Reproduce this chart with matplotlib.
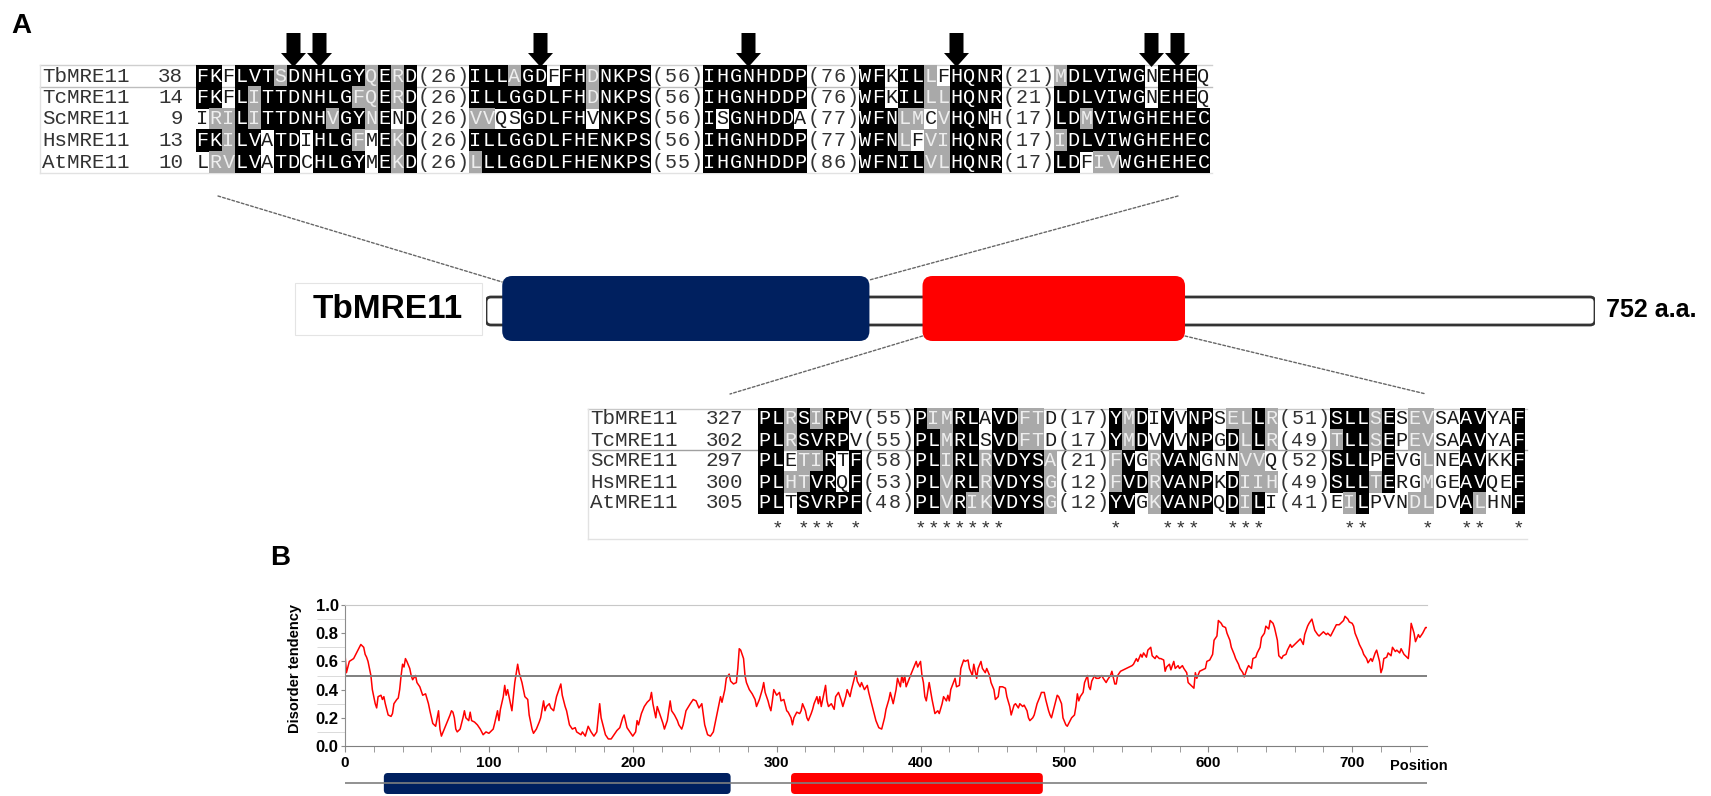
import matplotlib
matplotlib.use('Agg')
import matplotlib.pyplot as plt
from matplotlib.patches import FancyBboxPatch, Rectangle, Polygon, ConnectionPatch

W, H = 1711, 796
plt.rcParams['font.family'] = ['Liberation Sans', 'DejaVu Sans']

names = ['TbMRE11', 'TcMRE11', 'ScMRE11', 'HsMRE11', 'AtMRE11']

# upper alignment (phosphoesterase motifs)
top_start = [38, 14, 9, 13, 10]
top_seq = [
    ['FKFLVTSDNHLGYQERD', 'ILLAGDFFHDNKPS', 'IHGNHDDP', 'WFKILLFHQNR', 'MDLVIWGNEHEQ'],
    ['FKFLITTDNHLGFQERD', 'ILLGGDLFHDNKPS', 'IHGNHDDP', 'WFKILLLHQNR', 'LDLVIWGNEHEQ'],
    ['IRILITTDNHVGYNEND', 'VVQSGDLFHVNKPS', 'ISGNHDDA', 'WFNLMCVHQNH', 'LDMVIWGHEHEC'],
    ['FKILVATDIHLGFMEKD', 'ILLGGDLFHENKPS', 'IHGNHDDP', 'WFNLFVIHQNR', 'IDLVIWGHEHEC'],
    ['LRVLVATDCHLGYMEKD', 'LLLGGDLFHENKPS', 'IHGNHDDP', 'WFNILVLHQNR', 'LDFIVWGHEHEC'],
]
# B = identical (black), G = similar (grey), . = none
top_shade = [
    ['BB.BBBGBBBBBBGBGB', 'BBBGBB.BBGBBBB', 'BBBBBBBB', 'BB.BBG.BBBB', 'GBBBBBB.BBB.'],
    ['BB.BGBBBBBBBGGBGB', 'BBBBBBBBBGBBBB', 'BBBBBBBB', 'BB.BBGGBBBB', 'BBBBBBB.BBB.'],
    ['.GGBGBBBBBGBBGB.B', 'GG..BBBBB.BBBB', 'B.BBBBB.', 'BBBGG.GBBB.', 'BBGBBBBBBBBB'],
    ['BBGBB.BB.BBBG.BGB', 'BBBBBBBBBBBBBB', 'BBBBBBBB', 'BBBG.GGBBBB', 'GBBBBBBBBBBB'],
    ['.GGBB.BB.BBBB.BGB', 'GBBBBBBBBBBBBB', 'BBBBBBBB', 'BBBBBGGBBBB', 'BB.GGBBBBBBB'],
]
top_gaps = [[26, 56, 76, 21], [26, 56, 76, 21], [26, 56, 77, 17], [26, 56, 77, 17], [26, 55, 86, 17]]
top_arrows = [(0, 7), (0, 9), (1, 5), (2, 3), (3, 7), (4, 7), (4, 9)]  # (segment, column)

# lower alignment (capping domain)
bot_start = [327, 302, 297, 300, 305]
bot_seq = [
    ['PLRSIRPV', 'PIMRLAVDFTD', 'YMDIVVNPSELLR', 'SLLSESEVSAAVYAF'],
    ['PLRSVRPV', 'PLMRLSVDFTD', 'YMDVVVNPGDLLR', 'TLLSEPEVSAAVYAF'],
    ['PLETIRTF', 'PLIRLRVDYSA', 'FVGRVANGNNVVQ', 'SLLPEVGLNEAVKKF'],
    ['PLHTVRQF', 'PLVRLRVDYSG', 'FVDRVANPKDIIH', 'SLLTERGMGEAVQEF'],
    ['PLTSVRPF', 'PLVRIKVDYSG', 'YVGKVANPQDILI', 'EILPVNDLDVALHNF'],
]
bot_shade = [
    ['BBGBGBB.', 'BGGBB.BBGG.', 'BGB.B.BB.GGBG', 'BBBGB.GG..BB..B'],
    ['BBGBBBB.', 'BBGBB.BBGG.', 'BGB.B.BB.BGBG', 'GBBGB.GG..BB..B'],
    ['BB.GGB.B', 'BBGBBGBBBBG', 'GB.GBBB...GG.', 'BBB.B..G..BB..B'],
    ['BBGGBB.B', 'BBGBBGBBBBG', 'GBBGBBBB.BGGG', 'BBBGB..G..BB..B'],
    ['BB.BBBBB', 'BBGBGGBBBBG', 'BB.GBBBB.BGB.', '.GB...GG..BG..B'],
]
bot_gaps = [[55, 17, 51], [55, 17, 49], [58, 21, 52], [53, 12, 49], [48, 12, 41]]
bot_stars = [[1, 3, 4, 5, 7], [0, 1, 2, 3, 4, 5, 6], [0, 4, 5, 6, 9, 10, 11], [1, 2, 7, 10, 11, 14]]

protein_len = 752
schematic_nuc = (11, 260)   # domain boxes as drawn on the schematic
schematic_cap = (296, 474)
domain_nuc = (27, 268)      # domain boxes under the disorder plot
domain_cap = (310, 485)

# disorder score (position, score)
disorder_trace = [
    (0, .65), (1, .52), (3, .60), (6, .62), (8, .66), (9, .68), (11, .72), (13, .70), (14, .65), (15, .63),
    (16, .60), (18, .50), (19, .40), (21, .30), (22, .27), (23, .35), (25, .36), (26, .33), (27, .35), (28, .30),
    (30, .22), (32, .21), (33, .23), (34, .30), (36, .33), (37, .34), (38, .40), (39, .50), (40, .58), (41, .56),
    (42, .62), (43, .60), (45, .55), (46, .50), (47, .47), (49, .50), (50, .45), (52, .42), (54, .36), (56, .37),
    (58, .30), (59, .25), (61, .16), (63, .14), (65, .25), (66, .12), (67, .07), (69, .12), (71, .17), (73, .22),
    (74, .25), (75, .24), (76, .20), (77, .12), (78, .10), (80, .12), (82, .20), (83, .25), (84, .20), (86, .18),
    (87, .24), (88, .18), (90, .17), (92, .15), (94, .12), (96, .08), (98, .10), (100, .09), (103, .12), (104, .16),
    (106, .25), (107, .18), (108, .26), (110, .35), (111, .43), (112, .36), (113, .40), (115, .30), (116, .25), (117, .35),
    (118, .45), (120, .58), (121, .52), (123, .45), (125, .35), (127, .33), (128, .22), (130, .12), (131, .09), (133, .12),
    (135, .17), (136, .20), (138, .32), (139, .25), (140, .28), (142, .30), (143, .27), (145, .25), (147, .35), (150, .44),
    (151, .36), (153, .28), (154, .25), (156, .15), (158, .12), (160, .13), (161, .10), (164, .08), (165, .10), (167, .07),
    (169, .14), (171, .10), (173, .07), (175, .10), (177, .30), (178, .20), (180, .12), (181, .08), (183, .05), (185, .05),
    (187, .08), (189, .11), (191, .13), (193, .20), (194, .22), (196, .13), (198, .10), (200, .07), (202, .10), (203, .18),
    (204, .15), (206, .23), (208, .28), (210, .31), (212, .33), (213, .38), (214, .30), (216, .20), (217, .28), (219, .22),
    (221, .16), (222, .12), (224, .18), (226, .32), (227, .25), (229, .22), (231, .18), (232, .15), (234, .12), (235, .15),
    (237, .25), (240, .30), (242, .33), (244, .32), (246, .27), (248, .30), (250, .15), (252, .08), (254, .07), (256, .10),
    (257, .15), (259, .25), (260, .30), (261, .35), (262, .31), (264, .40), (265, .48), (267, .51), (268, .46), (270, .44),
    (272, .45), (273, .55), (274, .69), (275, .68), (277, .62), (278, .50), (279, .45), (281, .40), (283, .37), (285, .33),
    (286, .28), (288, .33), (290, .40), (291, .45), (292, .38), (294, .32), (295, .28), (296, .25), (297, .32), (298, .40),
    (300, .36), (302, .38), (303, .32), (305, .33), (307, .25), (308, .24), (310, .20), (311, .15), (312, .20), (314, .24),
    (316, .23), (317, .25), (318, .30), (320, .25), (321, .20), (322, .18), (324, .23), (325, .26), (326, .30), (328, .35),
    (329, .30), (330, .35), (331, .28), (333, .38), (334, .43), (335, .32), (336, .28), (338, .30), (340, .26), (341, .35),
    (343, .38), (345, .32), (346, .28), (348, .35), (349, .40), (351, .35), (352, .40), (354, .48), (355, .53), (356, .46),
    (358, .42), (359, .45), (361, .40), (363, .43), (364, .38), (366, .30), (368, .22), (369, .18), (371, .13), (373, .12),
    (375, .20), (376, .26), (378, .33), (379, .38), (381, .30), (383, .40), (384, .48), (386, .42), (387, .50), (388, .45),
    (389, .50), (390, .42), (393, .50), (395, .55), (397, .60), (398, .56), (400, .60), (401, .50), (402, .45), (403, .35),
    (404, .32), (406, .45), (408, .33), (410, .23), (412, .25), (413, .23), (415, .30), (416, .35), (418, .32), (419, .36),
    (420, .32), (421, .40), (424, .48), (425, .42), (427, .43), (428, .55), (430, .61), (431, .60), (433, .61), (434, .55),
    (436, .50), (437, .58), (439, .48), (440, .55), (442, .60), (443, .55), (445, .52), (446, .55), (448, .50), (449, .45),
    (451, .40), (452, .33), (454, .35), (455, .42), (457, .42), (459, .41), (460, .35), (462, .28), (463, .22), (465, .29),
    (466, .30), (468, .27), (469, .30), (471, .28), (472, .29), (474, .25), (475, .20), (476, .18), (478, .20), (479, .22),
    (481, .30), (483, .35), (484, .38), (486, .38), (487, .33), (489, .25), (490, .22), (491, .20), (493, .28), (494, .32),
    (495, .36), (496, .35), (498, .30), (499, .20), (501, .15), (502, .14), (504, .18), (505, .20), (507, .22), (508, .28),
    (509, .37), (510, .32), (511, .35), (513, .38), (514, .45), (516, .50), (517, .42), (518, .40), (519, .46), (521, .50),
    (522, .48), (524, .48), (526, .50), (527, .48), (529, .45), (530, .47), (532, .50), (533, .53), (535, .44), (536, .44),
    (537, .50), (539, .53), (541, .54), (543, .55), (545, .56), (547, .57), (548, .58), (550, .62), (551, .60), (553, .65),
    (554, .63), (555, .66), (557, .63), (558, .68), (560, .70), (561, .64), (563, .62), (564, .64), (566, .62), (567, .62),
    (569, .61), (570, .53), (571, .56), (573, .58), (574, .54), (576, .60), (577, .55), (579, .57), (580, .55), (582, .57),
    (583, .55), (585, .52), (586, .45), (588, .43), (589, .42), (590, .41), (591, .52), (592, .48), (594, .53), (596, .54),
    (598, .55), (599, .60), (601, .61), (603, .65), (604, .75), (606, .78), (607, .89), (609, .87), (610, .85), (612, .84),
    (613, .80), (615, .75), (616, .70), (618, .65), (619, .62), (621, .58), (622, .55), (624, .52), (625, .49), (627, .55),
    (628, .57), (630, .55), (631, .62), (633, .63), (634, .66), (636, .70), (637, .77), (639, .80), (640, .85), (642, .83),
    (643, .89), (645, .87), (646, .84), (648, .75), (649, .64), (651, .62), (652, .64), (654, .65), (655, .68), (657, .72),
    (658, .70), (660, .72), (661, .73), (663, .75), (664, .76), (666, .72), (667, .79), (669, .85), (670, .87), (672, .90),
    (673, .86), (674, .82), (676, .79), (677, .78), (679, .80), (680, .81), (682, .79), (683, .80), (685, .78), (686, .80),
    (688, .84), (689, .86), (691, .86), (692, .87), (694, .89), (695, .92), (697, .90), (698, .88), (700, .87), (701, .85),
    (702, .80), (704, .75), (705, .72), (707, .68), (708, .65), (710, .62), (711, .59), (713, .62), (714, .60), (716, .66),
    (717, .68), (719, .60), (720, .52), (721, .55), (722, .62), (724, .63), (725, .66), (727, .64), (728, .70), (730, .67),
    (731, .68), (733, .66), (734, .69), (736, .65), (737, .64), (739, .62), (740, .72), (741, .87), (743, .80), (744, .74),
    (746, .79), (747, .77), (749, .80), (750, .82), (751, .84), (752, .84),
]
disorder_pos = [p for p, v in disorder_trace]
disorder_val = [v for p, v in disorder_trace]

MONO = 'Liberation Mono'
GRAY = '#a9a9a9'
NAVY = '#00205f'
RED = '#ff0000'
CW = 13.0   # alignment cell width (px)

fig = plt.figure(figsize=(W / 100, H / 100), dpi=100)
ax0 = fig.add_axes([0, 0, 1, 1])
ax0.set_xlim(0, W)
ax0.set_ylim(H, 0)
ax0.axis('off')


def seg_offsets(segs):
    offs, c = [], 0
    for seg in segs:
        offs.append(c)
        c += len(seg) + 4
    return offs


def draw_alignment(x_name, x_num, x_seq, y_first, dy, starts, seqs, shades, gaps):
    for r in range(len(names)):
        y = y_first + r * dy
        ax0.text(x_name, y, names[r], family=MONO, fontsize=15, color='#333333', ha='left', va='center')
        ax0.text(x_num, y, str(starts[r]), family=MONO, fontsize=15, color='#333333', ha='right', va='center')
        col = 0
        for s, seg in enumerate(seqs[r]):
            for ch, code in zip(seg, shades[r][s]):
                if code == 'B':
                    fc, tc = 'black', 'white'
                elif code == 'G':
                    fc, tc = GRAY, '#eeeeee'
                else:
                    fc, tc = None, '#1a1a1a'
                if fc:
                    ax0.add_patch(Rectangle((x_seq + col * CW - 0.3, y - dy / 2 - 0.3), CW + 0.6, dy + 0.6,
                                            fc=fc, ec='none', lw=0, zorder=2))
                ax0.text(x_seq + (col + 0.5) * CW, y, ch, family=MONO, fontsize=14.5, color=tc,
                         ha='center', va='center', zorder=3)
                col += 1
            if s < len(gaps[r]):
                for ch in '(%d)' % gaps[r][s]:
                    ax0.text(x_seq + (col + 0.5) * CW, y, ch, family=MONO, fontsize=14.5, color='#333333',
                             ha='center', va='center', zorder=3)
                    col += 1


# ---- panel A: upper alignment
tx0, ty0, tdy = 196, 76, 21.5
for yy, c in [(65, '#cfcfcf'), (87, '#bdbdbd'), (173, '#e2e2e2')]:
    ax0.plot([40, 1212], [yy, yy], color=c, lw=1, zorder=1)
ax0.plot([40, 40], [65, 173], color='#e2e2e2', lw=1, zorder=1)
draw_alignment(42, 183, tx0, ty0, tdy, top_start, top_seq, top_shade, top_gaps)

offs = seg_offsets(top_seq[0])
for s, c in top_arrows:
    xc = tx0 + (offs[s] + c + 0.5) * CW
    ax0.add_patch(Polygon([(xc - 7, 33), (xc + 7, 33), (xc + 7, 53), (xc + 12.5, 53), (xc, 67),
                           (xc - 12.5, 53), (xc - 7, 53)], closed=True, fc='black', ec='none', zorder=4))

# ---- panel A: lower alignment
bx0, by0, bdy = 758, 419, 21
for yy, c in [(409, '#c8c8c8'), (450, '#a0a0a0'), (539, '#e2e2e2')]:
    ax0.plot([588, 1527], [yy, yy], color=c, lw=1, zorder=1)
ax0.plot([588, 588], [409, 539], color='#e2e2e2', lw=1, zorder=1)
draw_alignment(590, 743, bx0, by0, bdy, bot_start, bot_seq, bot_shade, bot_gaps)
offs = seg_offsets(bot_seq[0])
for s, cols in enumerate(bot_stars):
    for c in cols:
        ax0.text(bx0 + (offs[s] + c + 0.5) * CW, 529, '*', family=MONO, fontsize=14, color='#333333',
                 ha='center', va='center')

# ---- panel A: protein schematic
axs = fig.add_axes([486 / W, 1 - 345 / H, 1109 / W, 75 / H])
axs.set_xlim(0, protein_len)
axs.set_ylim(345, 270)
axs.axis('off')
asp = 1109 / protein_len
axs.add_patch(FancyBboxPatch((0, 297), protein_len, 28, boxstyle='round,pad=0,rounding_size=%f' % (5 / asp),
                             mutation_aspect=asp, fc='white', ec='#333333', lw=2))
for (a, b), col in [(schematic_nuc, NAVY), (schematic_cap, RED)]:
    axs.add_patch(FancyBboxPatch((a, 276), b - a, 65, boxstyle='round,pad=0,rounding_size=%f' % (10 / asp),
                                 mutation_aspect=asp, fc=col, ec='none'))

ax0.add_patch(Rectangle((295, 283), 187, 52, fc='white', ec='#e4e4e4', lw=0.8))
ax0.text(388, 310, 'TbMRE11', fontsize=24, fontweight='bold', ha='center', va='center')
ax0.text(1606, 310, '752 a.a.', fontsize=18, fontweight='bold', ha='left', va='center')

dots = dict(color='#666666', lw=1, linestyle=(0, (2, 1.5)))
for xyA, xyB in [((218, 196), (schematic_nuc[0], 282)), ((1178, 196), (schematic_nuc[1], 280))]:
    fig.add_artist(ConnectionPatch(xyA, xyB, coordsA=ax0.transData, coordsB=axs.transData, **dots))
for xyA, xyB in [((schematic_cap[0], 336), (730, 394)), ((schematic_cap[1], 336), (1426, 394))]:
    fig.add_artist(ConnectionPatch(xyA, xyB, coordsA=axs.transData, coordsB=ax0.transData, **dots))

ax0.text(11, 33, 'A', fontsize=20, fontweight='bold', va='baseline', ha='left')
ax0.text(270, 565, 'B', fontsize=20, fontweight='bold', va='baseline', ha='left')

# ---- panel B: disorder profile
axb = fig.add_axes([345 / W, 1 - 746 / H, 1082 / W, 141 / H])
axb.plot(disorder_pos, disorder_val, color=RED, lw=1.1)
axb.axhline(0.5, color='#7f7f7f', lw=1.4)
axb.set_xlim(0, protein_len)
axb.set_ylim(0, 1)
axb.spines['right'].set_visible(False)
axb.spines['top'].set_color('#c8c8c8')
axb.spines['left'].set_color('#8c8c8c')
axb.spines['bottom'].set_color('#7f7f7f')
axb.set_xticks(range(0, 701, 100))
axb.set_xticks(range(0, protein_len, 20), minor=True)
axb.set_yticks([0, 0.2, 0.4, 0.6, 0.8, 1.0])
axb.set_yticks([0.1, 0.3, 0.5, 0.7, 0.9], minor=True)
axb.set_yticklabels(['0.0', '0.2', '0.4', '0.6', '0.8', '1.0'])
axb.tick_params(axis='x', which='both', direction='out', color='#8c8c8c', length=4, pad=3.5, labelsize=11)
axb.tick_params(axis='y', which='major', direction='out', color='#8c8c8c', length=3, pad=1.5, labelsize=12)
axb.tick_params(axis='y', which='minor', direction='out', color='#d4d4d4', length=20)
for lbl in axb.get_xticklabels() + axb.get_yticklabels():
    lbl.set_fontweight('bold')
axb.set_ylabel('Disorder tendency', fontsize=10.5, fontweight='bold')
axb.yaxis.set_label_coords(-0.040, 0.553)
ax0.text(1419, 766, 'Position', fontsize=10.5, fontweight='bold', ha='center', va='center')

# domain track under the profile
axt = fig.add_axes([345 / W, 0, 1082 / W, 26 / H])
axt.set_xlim(0, protein_len)
axt.set_ylim(796, 770)
axt.axis('off')
axt.plot([0, protein_len], [783, 783], color='#7f7f7f', lw=1.2)
tasp = 1082 / protein_len
for (a, b), col in [(domain_nuc, NAVY), (domain_cap, RED)]:
    axt.add_patch(FancyBboxPatch((a, 773), b - a, 21, boxstyle='round,pad=0,rounding_size=%f' % (4 / tasp),
                                 mutation_aspect=tasp, fc=col, ec='none'))

fig.savefig('out.png', dpi=100)
